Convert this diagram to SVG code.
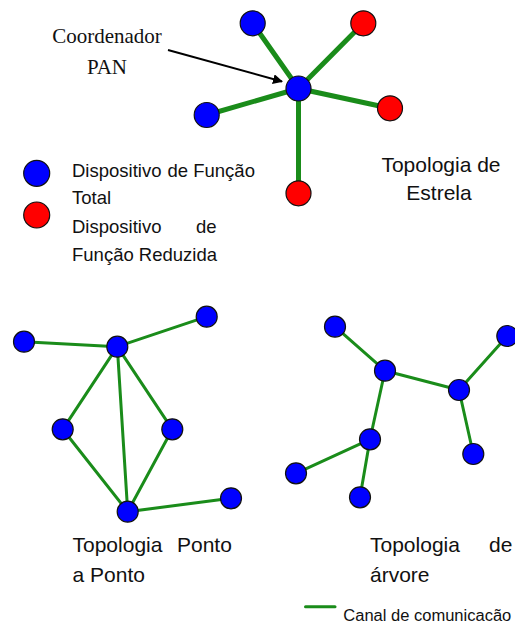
<svg xmlns="http://www.w3.org/2000/svg" width="515" height="626" viewBox="0 0 515 626">
  <style>
    .full { fill: #0000ff; stroke: #111; stroke-width: 1.2; }
    .reduced { fill: #ff0000; stroke: #111; stroke-width: 1.2; }
    .link-thick { stroke: #1a8c1a; stroke-width: 5; stroke-linecap: round; fill: none; }
    .link { stroke: #1a8c1a; stroke-width: 3; stroke-linecap: round; fill: none; }
    .sans { font-family: "Liberation Sans", Arial, sans-serif; fill: #111; }
    .serif { font-family: "Liberation Serif", "Times New Roman", serif; fill: #111; }
  </style>
  <defs>
    <marker id="arrowhead" viewBox="0 0 10 10" refX="9" refY="5" markerWidth="5" markerHeight="5" orient="auto" markerUnits="strokeWidth">
      <path d="M0,0 L10,5 L0,10 z" fill="#000"/>
    </marker>
  </defs>
  <rect width="515" height="626" fill="#fff"/>

  <!-- connectors -->
  <g id="connectors">
    <!-- star topology -->
    <line class="link-thick" x1="298.5" y1="88.5" x2="252.7" y2="23.3"/>
    <line class="link-thick" x1="298.5" y1="88.5" x2="363.3" y2="23.3"/>
    <line class="link-thick" x1="298.5" y1="88.5" x2="206.7" y2="115"/>
    <line class="link-thick" x1="298.5" y1="88.5" x2="390" y2="108.3"/>
    <line class="link-thick" x1="298.5" y1="88.5" x2="298.5" y2="193.3"/>
    <!-- point-to-point (mesh) topology -->
    <line class="link" x1="24" y1="341.7" x2="117.3" y2="346.7"/>
    <line class="link" x1="117.3" y1="346.7" x2="206.7" y2="316.7"/>
    <line class="link" x1="117.3" y1="346.7" x2="62.7" y2="429.3"/>
    <line class="link" x1="117.3" y1="346.7" x2="172.3" y2="429.3"/>
    <line class="link" x1="117.3" y1="346.7" x2="127.7" y2="511.7"/>
    <line class="link" x1="62.7" y1="429.3" x2="127.7" y2="511.7"/>
    <line class="link" x1="172.3" y1="429.3" x2="127.7" y2="511.7"/>
    <line class="link" x1="127.7" y1="511.7" x2="231" y2="498.3"/>
    <!-- tree topology -->
    <line class="link" x1="335" y1="326.7" x2="385" y2="370.7"/>
    <line class="link" x1="385" y1="370.7" x2="459" y2="390"/>
    <line class="link" x1="459" y1="390" x2="507.3" y2="336"/>
    <line class="link" x1="459" y1="390" x2="473.3" y2="454"/>
    <line class="link" x1="385" y1="370.7" x2="370" y2="439.3"/>
    <line class="link" x1="370" y1="439.3" x2="296" y2="473.3"/>
    <line class="link" x1="370" y1="439.3" x2="360" y2="497.3"/>
    <!-- pointer to the PAN coordinator -->
    <line x1="168" y1="50" x2="282" y2="81.5" stroke="#000" stroke-width="2" marker-end="url(#arrowhead)"/>
  </g>

  <!-- star topology nodes -->
  <g id="star-coordinator"><circle class="full" cx="298.5" cy="88.5" r="12.5"/></g>
  <g id="star-n1"><circle class="full" cx="252.7" cy="23.3" r="12.5"/></g>
  <g id="star-n2"><circle class="reduced" cx="363.3" cy="23.3" r="12.5"/></g>
  <g id="star-n3"><circle class="full" cx="206.7" cy="115" r="12.5"/></g>
  <g id="star-n4"><circle class="reduced" cx="390" cy="108.3" r="12.5"/></g>
  <g id="star-n5"><circle class="reduced" cx="298.5" cy="193.3" r="12.5"/></g>

  <!-- mesh topology nodes -->
  <g id="mesh-n1"><circle class="full" cx="24" cy="341.7" r="10.5"/></g>
  <g id="mesh-hub"><circle class="full" cx="117.3" cy="346.7" r="10.5"/></g>
  <g id="mesh-n2"><circle class="full" cx="206.7" cy="316.7" r="10.5"/></g>
  <g id="mesh-n3"><circle class="full" cx="62.7" cy="429.3" r="10.5"/></g>
  <g id="mesh-n4"><circle class="full" cx="172.3" cy="429.3" r="10.5"/></g>
  <g id="mesh-n5"><circle class="full" cx="127.7" cy="511.7" r="10.5"/></g>
  <g id="mesh-n6"><circle class="full" cx="231" cy="498.3" r="10.5"/></g>

  <!-- tree topology nodes -->
  <g id="tree-n1"><circle class="full" cx="335" cy="326.7" r="10.5"/></g>
  <g id="tree-n2"><circle class="full" cx="385" cy="370.7" r="10.5"/></g>
  <g id="tree-n3"><circle class="full" cx="459" cy="390" r="10.5"/></g>
  <g id="tree-n4"><circle class="full" cx="507.3" cy="336" r="10.5"/></g>
  <g id="tree-n5"><circle class="full" cx="473.3" cy="454" r="10.5"/></g>
  <g id="tree-n6"><circle class="full" cx="370" cy="439.3" r="10.5"/></g>
  <g id="tree-n7"><circle class="full" cx="296" cy="473.3" r="10.5"/></g>
  <g id="tree-n8"><circle class="full" cx="360" cy="497.3" r="10.5"/></g>

  <!-- coordinator label -->
  <g id="label-coordinator" class="serif" font-size="21" text-anchor="middle">
    <text x="107" y="42.5">Coordenador</text>
    <text x="107" y="74">PAN</text>
  </g>

  <!-- device legend -->
  <g id="legend-devices" class="sans" font-size="18.5">
    <circle class="full" cx="36.7" cy="173.3" r="13"/>
    <circle class="reduced" cx="36.7" cy="215" r="13"/>
    <text x="72" y="176.5">Dispositivo<tspan x="167.5">de Função</tspan></text>
    <text x="72" y="204">Total</text>
    <text x="72" y="233">Dispositivo<tspan x="196">de</tspan></text>
    <text x="72" y="261">Função Reduzida</text>
  </g>

  <!-- topology captions -->
  <g id="label-star" class="sans" font-size="21" text-anchor="middle">
    <text x="441" y="172">Topologia de</text>
    <text x="439" y="199.5">Estrela</text>
  </g>
  <g id="label-mesh" class="sans" font-size="21">
    <text x="72.5" y="552">Topologia<tspan x="177">Ponto</tspan></text>
    <text x="72.5" y="581.5">a Ponto</text>
  </g>
  <g id="label-tree" class="sans" font-size="21">
    <text x="370" y="552">Topologia<tspan x="489">de</tspan></text>
    <text x="370" y="581.5">árvore</text>
  </g>

  <!-- channel legend -->
  <g id="legend-channel">
    <line class="link" x1="305.5" y1="606.7" x2="335" y2="606.7" stroke-linecap="butt"/>
    <text class="sans" x="343.3" y="620.5" font-size="16" textLength="168" lengthAdjust="spacingAndGlyphs">Canal de comunicacão</text>
  </g>
</svg>
